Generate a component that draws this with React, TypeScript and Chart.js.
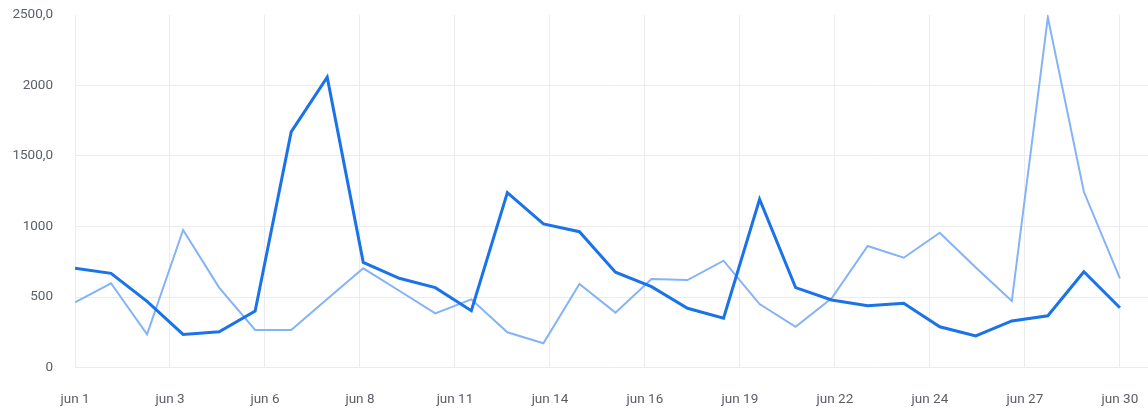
import React, { useEffect, useRef } from "react";
import { Chart, registerables } from "chart.js";

Chart.register(...registerables);

const days = [1,2,3,4,5,6,7,8,9,10,11,12,13,14,15,16,17,18,19,20,21,22,23,24,25,26,27,28,29,30];
const seriesDark = [704,668,470,236,255,401,1670,2057,746,633,567,404,1240,1018,963,676,574,421,350,1193,567,480,439,456,290,225,331,368,680,425];
const seriesLight = [463,598,236,975,567,267,267,486,704,545,385,484,251,173,593,390,628,621,758,451,290,491,862,779,956,710,472,2481,1246,633];
const xTickLabels = ["jun 1","jun 3","jun 6","jun 8","jun 11","jun 14","jun 16","jun 19","jun 22","jun 24","jun 27","jun 30"];
const yTickLabels = ["0","500","1000","1500,0","2000","2500,0"];
const xMin = 1;
const xLast = 30;
const xAxisMax = 30.78;
const yMax = 2500;
const yStep = 500;

export default function App() {
  const ref = useRef<HTMLCanvasElement>(null);
  useEffect(() => {
    if (!ref.current) return;
    const chart = new Chart(ref.current, {
      type: "line",
      data: {
        datasets: [
          {
            data: days.map((d, i) => ({ x: d, y: seriesDark[i] })),
            borderColor: "#1a73e8",
            borderWidth: 3,
            pointRadius: 0,
            tension: 0,
            order: 0,
          },
          {
            data: days.map((d, i) => ({ x: d, y: seriesLight[i] })),
            borderColor: "#84b3f6",
            borderWidth: 2,
            pointRadius: 0,
            tension: 0,
            order: 1,
          },
        ],
      },
      options: {
        animation: false,
        responsive: false,
        layout: { padding: { top: 14.7, right: 0, left: 0, bottom: 0 } },
        plugins: { legend: { display: false }, tooltip: { enabled: false } },
        scales: {
          x: {
            type: "linear",
            min: xMin,
            max: xAxisMax,
            afterBuildTicks: (scale: any) => {
              scale.ticks = xTickLabels.map((_, i) => ({
                value: xMin + (i * (xLast - xMin)) / (xTickLabels.length - 1),
              }));
            },
            afterFit: (scale: any) => {
              scale.height = 41.3;
              scale.paddingLeft = 0;
              scale.paddingRight = 0;
            },
            border: { display: false },
            grid: { color: "#ececec", drawTicks: false, lineWidth: 1 },
            ticks: {
              autoSkip: false,
              maxRotation: 0,
              padding: 23.5,
              color: "#5a5f66",
              font: { family: "Roboto", size: 13.5 },
              callback: (_v: any, i: number) => xTickLabels[i],
            },
          },
          y: {
            min: 0,
            max: yMax,
            afterFit: (scale: any) => {
              scale.width = 75;
              scale.paddingTop = 0;
              scale.paddingBottom = 0;
            },
            border: { display: false },
            grid: {
              drawTicks: false,
              color: (ctx: any) => (ctx.tick && ctx.tick.value === yMax ? "rgba(0,0,0,0)" : "#ececec"),
            },
            ticks: {
              stepSize: yStep,
              padding: 22,
              color: "#5a5f66",
              font: { family: "Roboto", size: 13.5 },
              callback: (_v: any, i: number) => yTickLabels[i],
            },
          },
        },
      },
    } as any);
    return () => chart.destroy();
  }, []);
  return (
    <div style={{ position: "fixed", left: 0, top: 0, width: 1148, height: 409, background: "#fff" }}>
      <canvas ref={ref} width={1148} height={409} style={{ display: "block" }} />
    </div>
  );
}
